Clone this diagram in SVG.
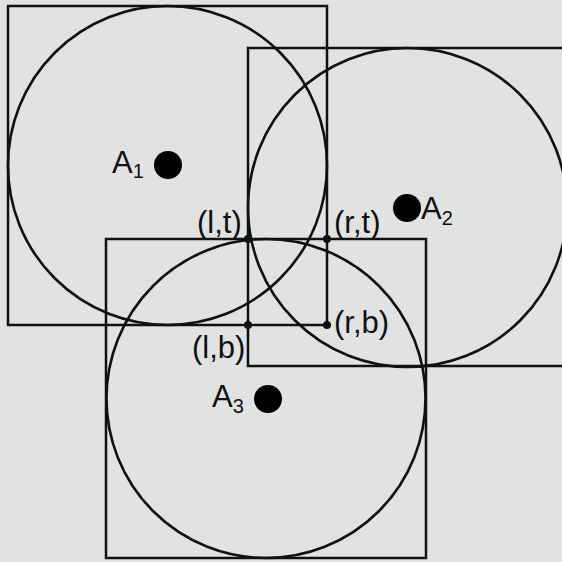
<svg xmlns="http://www.w3.org/2000/svg" width="562" height="562" viewBox="0 0 562 562">
<style>
.sq{fill:none;stroke:#111;stroke-width:2.5}
.ci{fill:none;stroke:#111;stroke-width:2.6}
.dot{fill:#000}
.pt{fill:#111}
.lbl{font-family:"Liberation Sans",Arial,sans-serif;font-size:31px;fill:#111}
.sub{font-size:20px}
</style>
<rect width="562" height="562" fill="#e1e3e2"/>
<g id="A1">
<rect class="sq" x="8" y="6" width="319" height="319"/>
<circle class="ci" cx="167.5" cy="165.5" r="159.5"/>
<circle class="dot" cx="168" cy="165" r="14"/>
<text class="lbl" x="112" y="173">A<tspan class="sub" dy="5">1</tspan></text>
</g>
<g id="A2">
<rect class="sq" x="248" y="48" width="320" height="318"/>
<circle class="ci" cx="407.5" cy="207.5" r="159.5"/>
<circle class="dot" cx="407" cy="208" r="14"/>
<text class="lbl" x="421" y="219">A<tspan class="sub" dy="6">2</tspan></text>
</g>
<g id="A3">
<rect class="sq" x="106" y="239" width="320" height="319"/>
<circle class="ci" cx="266" cy="398.5" r="159.5"/>
<circle class="dot" cx="268" cy="399" r="14"/>
<text class="lbl" x="212" y="407">A<tspan class="sub" dy="6">3</tspan></text>
</g>
<g id="connectors"></g>
<g id="lt"><circle class="pt" cx="248" cy="239" r="4"/><text class="lbl" x="197" y="233">(l,t)</text></g>
<g id="rt"><circle class="pt" cx="327" cy="239" r="4"/><text class="lbl" x="334" y="233">(r,t)</text></g>
<g id="lb"><circle class="pt" cx="248" cy="325" r="4"/><text class="lbl" x="192" y="358">(l,b)</text></g>
<g id="rb"><circle class="pt" cx="327" cy="325" r="4"/><text class="lbl" x="334" y="333">(r,b)</text></g>
</svg>
